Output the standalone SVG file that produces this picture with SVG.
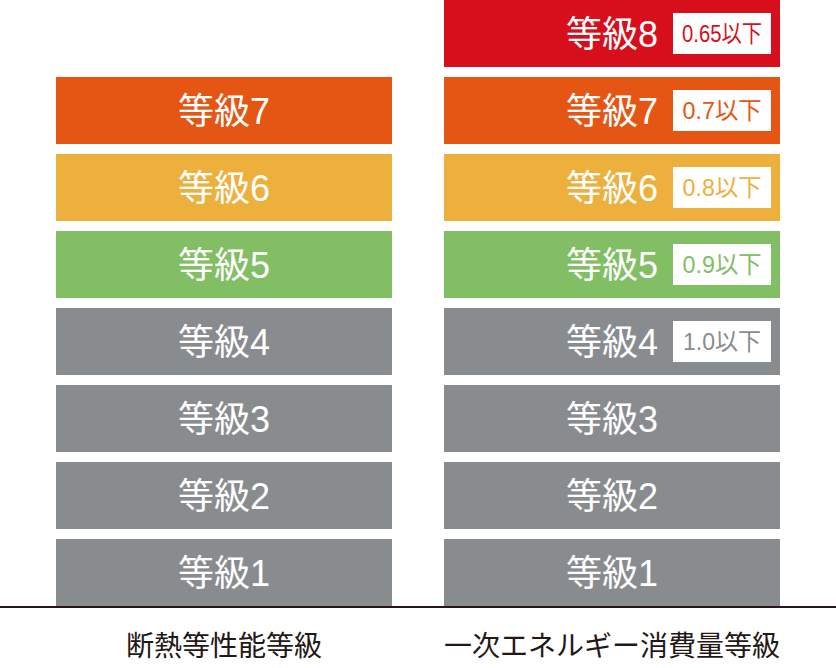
<svg xmlns="http://www.w3.org/2000/svg" width="836" height="668" viewBox="0 0 836 668">
<style>
.g{font-family:"Liberation Sans","Noto Sans CJK JP",sans-serif;font-size:36px;fill:#fff;text-anchor:middle}
.t{font-family:"Liberation Sans","Noto Sans CJK JP",sans-serif;font-size:24px;text-anchor:middle}
.cap{font-family:"Noto Sans CJK JP","Noto Sans",sans-serif;font-size:28px;fill:#231815;text-anchor:middle}
.red{fill:#D70F1C}.org{fill:#E55614}.yel{fill:#EDB03D}.grn{fill:#81BE64}.gry{fill:#898C8F}
.box{fill:#fff}
</style>
<rect width="836" height="668" fill="#fff"/>
<g id="insulation">
<g id="L7"><rect class="org" x="56" y="77" width="336" height="67"/><text class="g" x="224" y="124">等級7</text></g>
<g id="L6"><rect class="yel" x="56" y="154" width="336" height="67"/><text class="g" x="224" y="201">等級6</text></g>
<g id="L5"><rect class="grn" x="56" y="231" width="336" height="67"/><text class="g" x="224" y="278">等級5</text></g>
<g id="L4"><rect class="gry" x="56" y="308" width="336" height="67"/><text class="g" x="224" y="355">等級4</text></g>
<g id="L3"><rect class="gry" x="56" y="385" width="336" height="67"/><text class="g" x="224" y="432">等級3</text></g>
<g id="L2"><rect class="gry" x="56" y="462" width="336" height="67"/><text class="g" x="224" y="509">等級2</text></g>
<g id="L1"><rect class="gry" x="56" y="539" width="336" height="67"/><text class="g" x="224" y="586">等級1</text></g>
</g>
<g id="energy">
<g id="R8"><rect class="red" x="444" y="0" width="336" height="67"/><text class="g" x="612" y="47">等級8</text><rect class="box" x="673" y="13" width="98" height="41"/><text class="t red" x="722" y="42" textLength="80" lengthAdjust="spacingAndGlyphs">0.65以下</text></g>
<g id="R7"><rect class="org" x="444" y="77" width="336" height="67"/><text class="g" x="612" y="124">等級7</text><rect class="box" x="673" y="90" width="98" height="41"/><text class="t org" x="722" y="119" textLength="79" lengthAdjust="spacingAndGlyphs">0.7以下</text></g>
<g id="R6"><rect class="yel" x="444" y="154" width="336" height="67"/><text class="g" x="612" y="201">等級6</text><rect class="box" x="673" y="167" width="98" height="41"/><text class="t yel" x="722" y="196" textLength="79" lengthAdjust="spacingAndGlyphs">0.8以下</text></g>
<g id="R5"><rect class="grn" x="444" y="231" width="336" height="67"/><text class="g" x="612" y="278">等級5</text><rect class="box" x="673" y="244" width="98" height="41"/><text class="t grn" x="722" y="273" textLength="79" lengthAdjust="spacingAndGlyphs">0.9以下</text></g>
<g id="R4"><rect class="gry" x="444" y="308" width="336" height="67"/><text class="g" x="612" y="355">等級4</text><rect class="box" x="673" y="321" width="98" height="41"/><text class="t gry" x="722" y="350" textLength="78" lengthAdjust="spacingAndGlyphs">1.0以下</text></g>
<g id="R3"><rect class="gry" x="444" y="385" width="336" height="67"/><text class="g" x="612" y="432">等級3</text></g>
<g id="R2"><rect class="gry" x="444" y="462" width="336" height="67"/><text class="g" x="612" y="509">等級2</text></g>
<g id="R1"><rect class="gry" x="444" y="539" width="336" height="67"/><text class="g" x="612" y="586">等級1</text></g>
</g>
<g id="connectors"><line x1="0" y1="607" x2="836" y2="607" stroke="#231815" stroke-width="2"/></g>
<text class="cap" x="224" y="656">断熱等性能等級</text>
<text class="cap" x="612" y="656">一次エネルギー消費量等級</text>
</svg>
